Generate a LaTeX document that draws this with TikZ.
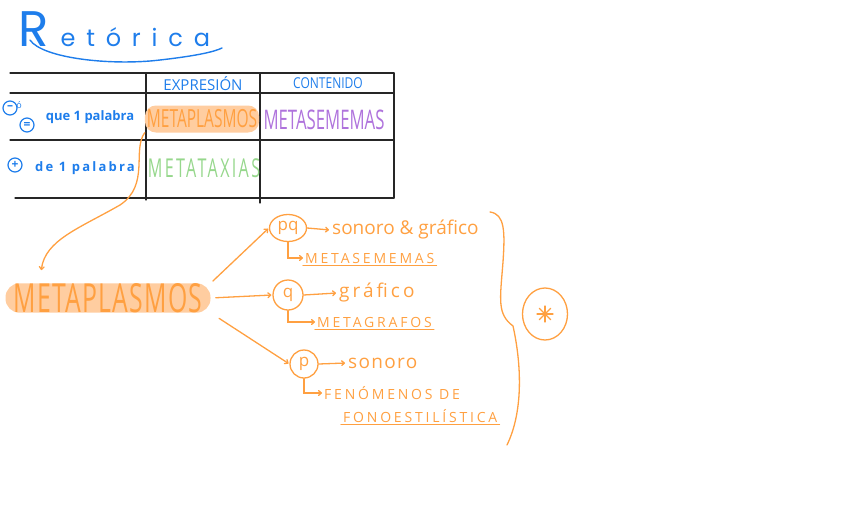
\documentclass[tikz,border=0pt]{standalone}
\usepackage{fontspec}
\setmainfont{Open Sans}
\newfontfamily\capsfont[FakeStretch=0.62]{Open Sans}
\newfontfamily\capsspaced[FakeStretch=0.62,LetterSpace=9]{Open Sans}
\newfontfamily\capsbig[FakeStretch=0.62,LetterSpace=3]{Open Sans}
\newfontfamily\headfont[FakeStretch=0.8]{Open Sans}
\newfontfamily\spacedcaps[LetterSpace=20]{Open Sans}
\newfontfamily\looseface[LetterSpace=16]{Open Sans}
\newfontfamily\lightloose[LetterSpace=7]{Open Sans}
\newfontfamily\wideblue[LetterSpace=17]{Open Sans}
\newfontfamily\titlefont[LetterSpace=45]{Poppins}
\newfontfamily\titlecap{Poppins}
\usetikzlibrary{arrows.meta,shapes.geometric}

\definecolor{inkblue}{RGB}{30,125,235}
\definecolor{inkorange}{RGB}{255,160,65}
\definecolor{marker}{RGB}{255,205,160}
\definecolor{inkpurple}{RGB}{175,115,220}
\definecolor{inkgreen}{RGB}{150,215,140}

\tikzset{
  rule/.style={line width=1.2pt, black!85},
  bluetext/.style={text=inkblue, inner sep=1pt},
  signcircle/.style={circle, draw=inkblue, line width=1.2pt, text=inkblue, minimum size=14pt, inner sep=0pt, font=\bfseries\fontsize{12}{12}\selectfont},
  orangeink/.style={draw=inkorange, line width=1.3pt},
  orangetext/.style={text=inkorange, inner sep=2pt},
  lettercircle/.style={ellipse, draw=inkorange, line width=1.3pt, text=inkorange, inner sep=0pt, font=\fontsize{17}{17}\selectfont},
  pen/.style={-{To[length=4pt,width=6pt]}, orangeink}
}

\begin{document}
\begin{tikzpicture}[x=1pt, y=-1pt, line cap=round]
\useasboundingbox (0,0) rectangle (848,530);

% title
\node at (18,46) [anchor=base west, text=inkblue, inner sep=0pt] (title) {{\titlecap\fontsize{50}{50}\selectfont R}\hspace{12pt}{\titlefont\fontsize{24}{24}\selectfont etórica}};
\draw[inkblue, line width=1.4pt] (30,40) .. controls (42,58) and (110,66) .. (160,60) .. controls (195,56) and (214,52) .. (222,48);

% table
\draw[rule] (10,73) -- (394,73);
\draw[rule] (10,93) -- (394,93);
\draw[rule] (10,140) -- (394,140);
\draw[rule] (15,198) -- (394,198);
\draw[rule] (146,73) -- (146,200);
\draw[rule] (260,73) -- (260,203);
\draw[rule] (394,73) -- (394,198);

\node at (203,84) [bluetext, font=\fontsize{15}{15}\selectfont] (expr) {EXPRESIÓN};
\node at (328,83) [bluetext, font=\headfont\fontsize{15}{15}\selectfont] (cont) {CONTENIDO};

\node at (10,108) [signcircle] (minusop) {–};
\node at (19,105) [bluetext, font=\fontsize{9}{9}\selectfont] (orword) {ó};
\node at (27,125) [signcircle] (equalop) {=};
\node at (90,117) [bluetext, font=\bfseries\fontsize{13}{13}\selectfont] (fewer) {que 1 palabra};
\node at (15,165) [signcircle] (plusop) {+};
\node at (85,168) [bluetext, font=\wideblue\bfseries\fontsize{13}{13}\selectfont] (more) {de 1 palabra};

\node at (202,119) [rectangle, fill=marker, rounded corners=11pt, minimum width=112pt, minimum height=27pt, orangetext, font=\capsfont\fontsize{25}{25}\selectfont] (tmeta) {METAPLASMOS};
\node at (324,120) [text=inkpurple, font=\capsfont\fontsize{27}{27}\selectfont] (tsem) {METASEMEMAS};
\node at (204,168) [text=inkgreen, font=\capsspaced\fontsize{26}{26}\selectfont] (ttax) {METATAXIAS};

% metaplasmos
\node at (108,298) [rectangle, fill=marker, rounded corners=14pt, minimum width=205pt, minimum height=28pt, orangetext, inner sep=0pt, font=\capsbig\fontsize{40}{40}\selectfont] (bigmeta) {METAPLASMOS};
\draw[pen] (tmeta.south west) .. controls (132,150) and (150,185) .. (120,205) .. controls (80,228) and (45,240) .. ([xshift=36pt,yshift=13pt]bigmeta.north west);

\node at (288,228) [lettercircle, minimum width=37pt, minimum height=27pt] (pq) {pq};
\node at (288,295) [lettercircle, minimum width=30pt, minimum height=30pt] (q) {q};
\node at (304,364) [lettercircle, minimum width=28pt, minimum height=28pt] (p) {p};

\draw[pen, shorten <=3pt, shorten >=1pt] (bigmeta.north east) -- (pq.west);
\draw[pen, shorten <=5pt, shorten >=1pt] (bigmeta.east) -- (q.west);
\draw[pen, shorten <=10pt, shorten >=1pt] (bigmeta.south east) -- (p.west);

\node at (330,230) [anchor=west, orangetext, font=\fontsize{19}{19}\selectfont] (sg) {sonoro \& gráfico};
\node at (337,293) [anchor=west, orangetext, font=\looseface\fontsize{19}{19}\selectfont] (gr) {gráfico};
\node at (346,363) [anchor=west, orangetext, font=\lightloose\fontsize{19}{19}\selectfont] (so) {sonoro};
\draw[pen, shorten >=1pt] (pq.east) -- (sg.west);
\draw[pen, shorten >=1pt] (q.east) -- (gr.west);
\draw[pen, shorten >=1pt] (p.east) -- (so.west);

\node at (303,258) [anchor=west, orangetext, font=\spacedcaps\fontsize{14}{14}\selectfont] (msem) {METASEMEMAS};
\node at (315,322) [anchor=west, orangetext, font=\spacedcaps\fontsize{14}{14}\selectfont] (mgraf) {METAGRAFOS};
\node at (322,393) [anchor=west, orangetext, font=\spacedcaps\fontsize{14}{14}\selectfont] (fen) {FENÓMENOS DE};
\node at (341,416) [anchor=west, orangetext, font=\spacedcaps\fontsize{14}{14}\selectfont] (fono) {FONOESTILÍSTICA};
\draw[orangeink] (msem.south west) -- (msem.south east);
\draw[orangeink] (mgraf.south west) -- (mgraf.south east);
\draw[orangeink] (fono.south west) -- (fono.south east);

\draw[pen] (pq.south) |- (msem.west);
\draw[pen] (q.south) |- (mgraf.west);
\draw[pen] (p.south) |- (fen.west);

% brace
\draw[orangeink] (490,212) .. controls (505,214) and (505,232) .. (503,262) .. controls (500,300) and (497,314) .. (513,326) .. controls (521,362) and (524,410) .. (507,445);
\node at (545,314) [ellipse, draw=inkorange, line width=1.3pt, minimum width=45pt, minimum height=52pt] (star) {};
\foreach \a in {0,45,90,135}
  \draw[orangeink] ([shift={(\a:8pt)}]star.center) -- ([shift={(\a+180:8pt)}]star.center);

\end{tikzpicture}
\end{document}
